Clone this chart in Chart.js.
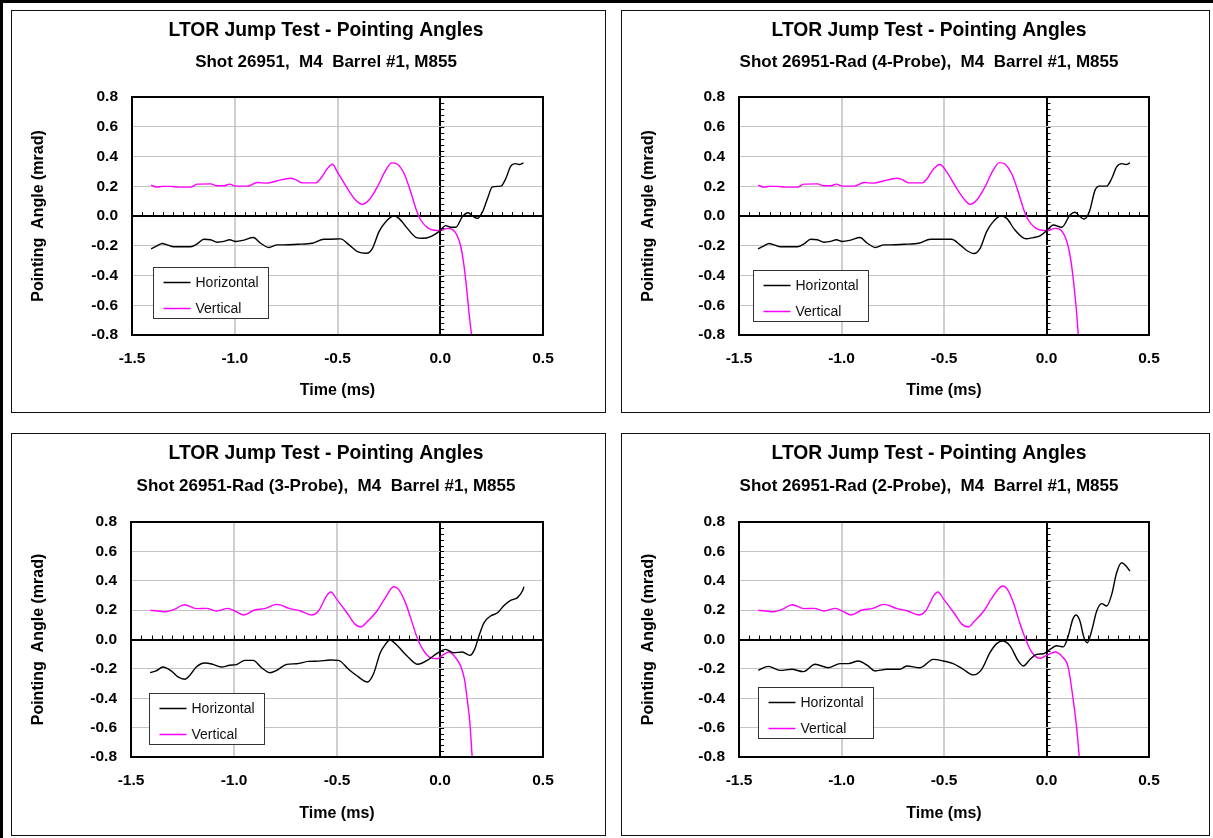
<!DOCTYPE html>
<html>
<head>
<meta charset="utf-8">
<script src="https://cdn.jsdelivr.net/npm/chart.js@4.4.0/dist/chart.umd.min.js"></script>
<style>
  html, body { margin: 0; padding: 0; background: #fff; }
  body { width: 1213px; height: 838px; position: relative; overflow: hidden; }
  .frameTop { position: absolute; left: 0; top: 0; width: 1213px; height: 3px; background: #000; }
  .frameLeft { position: absolute; left: 0; top: 0; width: 3px; height: 838px; background: #000; }
  .panel { position: absolute; border: 1px solid #111; background: #fff; }
  .panel canvas { position: absolute; left: 0; top: 0; }
</style>
</head>
<body>
<div class="frameTop"></div>
<div class="frameLeft"></div>
<div class="panel" id="b1" style="left:11px;top:10px;width:593px;height:401px"><canvas id="c1" width="593" height="401"></canvas></div>
<div class="panel" id="b2" style="left:621px;top:10px;width:587px;height:401px"><canvas id="c2" width="587" height="401"></canvas></div>
<div class="panel" id="b3" style="left:11px;top:433px;width:593px;height:401px"><canvas id="c3" width="593" height="401"></canvas></div>
<div class="panel" id="b4" style="left:621px;top:433px;width:587px;height:401px"><canvas id="c4" width="587" height="401"></canvas></div>
<script>
// ---------------- DATA ----------------
const chartTitle = 'LTOR Jump Test - Pointing Angles';
const subtitles = [
  'Shot 26951,  M4  Barrel #1, M855',
  'Shot 26951-Rad (4-Probe),  M4  Barrel #1, M855',
  'Shot 26951-Rad (3-Probe),  M4  Barrel #1, M855',
  'Shot 26951-Rad (2-Probe),  M4  Barrel #1, M855'
];
const seriesNames = ['Horizontal', 'Vertical'];
const xTickValues = [-1.5, -1.0, -0.5, 0.0, 0.5];
const yTickValues = [-0.8, -0.6, -0.4, -0.2, 0.0, 0.2, 0.4, 0.6, 0.8];
const xAxisTitle = 'Time (ms)';
const yAxisTitle = 'Pointing  Angle (mrad)';

// Panel 1 : Shot 26951
const p1HorizT = [-1.407,-1.378,-1.353,-1.329,-1.297,-1.215,-1.183,-1.150,-1.118,-1.085,-1.053,-1.025,-0.996,-0.955,-0.910,-0.874,-0.834,-0.793,-0.761,-0.696,-0.623,-0.566,-0.533,-0.485,-0.444,-0.403,-0.358,-0.330,-0.298,-0.265,-0.225,-0.201,-0.160,-0.119,-0.087,-0.046,-0.006,0.027,0.051,0.076,0.108,0.136,0.157,0.181,0.206,0.230,0.254,0.295,0.319,0.343,0.368,0.384,0.405];
const p1HorizV = [-0.221,-0.201,-0.185,-0.194,-0.207,-0.207,-0.188,-0.156,-0.160,-0.176,-0.171,-0.160,-0.171,-0.162,-0.145,-0.183,-0.212,-0.194,-0.194,-0.190,-0.183,-0.156,-0.156,-0.154,-0.194,-0.239,-0.250,-0.217,-0.105,-0.038,0.000,-0.016,-0.083,-0.143,-0.150,-0.138,-0.105,-0.065,-0.076,-0.076,-0.004,0.022,0.000,-0.016,0.029,0.118,0.196,0.201,0.252,0.335,0.352,0.346,0.357];
const p1VertT = [-1.407,-1.378,-1.353,-1.313,-1.272,-1.215,-1.183,-1.118,-1.085,-1.053,-1.025,-0.996,-0.939,-0.890,-0.842,-0.793,-0.728,-0.704,-0.671,-0.606,-0.582,-0.549,-0.525,-0.501,-0.452,-0.412,-0.379,-0.347,-0.306,-0.265,-0.236,-0.209,-0.176,-0.144,-0.119,-0.095,-0.062,-0.030,0.002,0.035,0.059,0.084,0.100,0.116,0.129,0.140,0.152,0.156];
const p1VertV = [0.207,0.194,0.199,0.199,0.194,0.194,0.214,0.216,0.203,0.203,0.214,0.201,0.201,0.225,0.221,0.237,0.254,0.245,0.223,0.223,0.252,0.319,0.348,0.297,0.185,0.107,0.078,0.107,0.196,0.308,0.357,0.348,0.286,0.163,0.051,-0.027,-0.078,-0.096,-0.098,-0.083,-0.090,-0.138,-0.205,-0.339,-0.495,-0.651,-0.797,-0.850];

// Panel 2 : Shot 26951-Rad (4-Probe)
const p2HorizT = [-1.407,-1.378,-1.353,-1.329,-1.297,-1.215,-1.183,-1.150,-1.118,-1.085,-1.053,-1.025,-0.996,-0.955,-0.910,-0.874,-0.834,-0.793,-0.761,-0.696,-0.623,-0.566,-0.520,-0.463,-0.422,-0.389,-0.354,-0.324,-0.292,-0.260,-0.222,-0.194,-0.154,-0.100,-0.064,-0.032,0.001,0.033,0.074,0.115,0.139,0.163,0.183,0.209,0.237,0.258,0.294,0.318,0.342,0.367,0.388,0.407];
const p2HorizV = [-0.221,-0.201,-0.185,-0.194,-0.207,-0.207,-0.188,-0.156,-0.160,-0.176,-0.171,-0.160,-0.171,-0.162,-0.145,-0.183,-0.212,-0.194,-0.194,-0.190,-0.183,-0.156,-0.156,-0.156,-0.194,-0.232,-0.252,-0.217,-0.105,-0.038,0.000,-0.016,-0.094,-0.153,-0.145,-0.134,-0.098,-0.060,-0.076,0.007,0.025,-0.004,-0.020,0.029,0.174,0.201,0.201,0.252,0.330,0.352,0.346,0.357];
const p2VertT = [-1.407,-1.378,-1.353,-1.313,-1.272,-1.215,-1.183,-1.118,-1.085,-1.053,-1.025,-0.996,-0.939,-0.890,-0.842,-0.793,-0.728,-0.704,-0.671,-0.606,-0.582,-0.549,-0.520,-0.487,-0.438,-0.398,-0.373,-0.340,-0.300,-0.260,-0.230,-0.202,-0.170,-0.138,-0.113,-0.089,-0.056,-0.023,0.009,0.041,0.066,0.090,0.106,0.123,0.136,0.147,0.155,0.159];
const p2VertV = [0.207,0.194,0.199,0.199,0.194,0.194,0.214,0.216,0.203,0.203,0.214,0.201,0.201,0.225,0.221,0.237,0.254,0.245,0.223,0.223,0.252,0.319,0.346,0.297,0.185,0.107,0.078,0.107,0.196,0.308,0.359,0.348,0.286,0.163,0.051,-0.027,-0.078,-0.096,-0.098,-0.083,-0.090,-0.138,-0.205,-0.339,-0.495,-0.651,-0.797,-0.850];

// Panel 3 : Shot 26951-Rad (3-Probe)
const p3HorizT = [-1.407,-1.378,-1.345,-1.305,-1.272,-1.240,-1.215,-1.183,-1.142,-1.102,-1.061,-1.020,-0.988,-0.947,-0.907,-0.866,-0.826,-0.793,-0.744,-0.696,-0.639,-0.590,-0.533,-0.493,-0.444,-0.396,-0.352,-0.322,-0.290,-0.265,-0.244,-0.209,-0.160,-0.108,-0.062,-0.014,0.027,0.067,0.108,0.145,0.168,0.189,0.214,0.246,0.279,0.311,0.343,0.376,0.400,0.408];
const p3HorizV = [-0.226,-0.214,-0.187,-0.214,-0.255,-0.271,-0.245,-0.187,-0.160,-0.169,-0.187,-0.175,-0.171,-0.142,-0.142,-0.192,-0.226,-0.210,-0.169,-0.165,-0.149,-0.147,-0.140,-0.142,-0.203,-0.255,-0.289,-0.231,-0.090,-0.033,-0.003,-0.039,-0.112,-0.169,-0.142,-0.094,-0.067,-0.090,-0.085,-0.108,-0.067,0.024,0.115,0.160,0.182,0.232,0.266,0.285,0.330,0.359];
const p3VertT = [-1.407,-1.378,-1.329,-1.289,-1.240,-1.183,-1.134,-1.085,-1.029,-0.996,-0.955,-0.899,-0.850,-0.793,-0.728,-0.680,-0.623,-0.590,-0.549,-0.530,-0.501,-0.452,-0.412,-0.384,-0.355,-0.306,-0.265,-0.225,-0.201,-0.168,-0.135,-0.111,-0.079,-0.046,-0.014,0.019,0.043,0.076,0.100,0.119,0.132,0.145,0.157,0.160];
const p3VertV = [0.198,0.196,0.189,0.205,0.237,0.210,0.212,0.194,0.212,0.194,0.167,0.201,0.210,0.239,0.210,0.196,0.167,0.194,0.300,0.323,0.273,0.182,0.103,0.085,0.119,0.194,0.285,0.359,0.341,0.251,0.115,0.012,-0.078,-0.124,-0.131,-0.101,-0.085,-0.124,-0.180,-0.271,-0.407,-0.566,-0.815,-0.860];

// Panel 4 : Shot 26951-Rad (2-Probe)
const p4HorizT = [-1.406,-1.357,-1.300,-1.243,-1.186,-1.129,-1.064,-1.007,-0.967,-0.918,-0.877,-0.837,-0.780,-0.715,-0.682,-0.617,-0.552,-0.503,-0.455,-0.406,-0.357,-0.316,-0.276,-0.243,-0.214,-0.178,-0.138,-0.113,-0.080,-0.048,-0.016,0.017,0.050,0.082,0.106,0.128,0.144,0.163,0.183,0.199,0.220,0.245,0.269,0.294,0.318,0.342,0.367,0.388,0.407];
const p4HorizV = [-0.210,-0.183,-0.210,-0.203,-0.219,-0.169,-0.192,-0.164,-0.164,-0.146,-0.173,-0.214,-0.203,-0.203,-0.180,-0.192,-0.135,-0.146,-0.164,-0.203,-0.241,-0.203,-0.090,-0.028,-0.010,-0.043,-0.146,-0.180,-0.135,-0.101,-0.097,-0.067,-0.043,-0.050,0.024,0.137,0.167,0.126,0.012,-0.022,0.058,0.194,0.244,0.228,0.307,0.455,0.523,0.500,0.466];
const p4VertT = [-1.407,-1.378,-1.329,-1.289,-1.240,-1.183,-1.134,-1.085,-1.029,-0.996,-0.955,-0.899,-0.850,-0.793,-0.728,-0.680,-0.623,-0.590,-0.549,-0.530,-0.501,-0.452,-0.412,-0.381,-0.355,-0.306,-0.265,-0.214,-0.190,-0.160,-0.130,-0.100,-0.070,-0.031,0.005,0.042,0.075,0.106,0.131,0.147,0.161,0.164];
const p4VertV = [0.198,0.196,0.189,0.205,0.237,0.210,0.212,0.194,0.212,0.194,0.167,0.201,0.210,0.239,0.210,0.196,0.167,0.194,0.300,0.323,0.273,0.182,0.103,0.085,0.119,0.194,0.285,0.364,0.340,0.245,0.110,-0.005,-0.090,-0.128,-0.105,-0.085,-0.115,-0.190,-0.418,-0.600,-0.815,-0.860];

// ---------------- LAYOUT (not data) ----------------
const panels = [
  { canvas: 'c1', sub: 0, ht: p1HorizT, hv: p1HorizV, vt: p1VertT, vv: p1VertV,
    area: { left: 120, top: 86, right: 531, bottom: 324 }, titleX: 314, titleY: 20, subY: 51, legend: { x: 21, y: 170 } },
  { canvas: 'c2', sub: 1, ht: p2HorizT, hv: p2HorizV, vt: p2VertT, vv: p2VertV,
    area: { left: 117, top: 86, right: 527, bottom: 324 }, titleX: 307, titleY: 20, subY: 51, legend: { x: 14, y: 173 } },
  { canvas: 'c3', sub: 2, ht: p3HorizT, hv: p3HorizV, vt: p3VertT, vv: p3VertV,
    area: { left: 119, top: 88, right: 531, bottom: 323 }, titleX: 314, titleY: 20, subY: 52, legend: { x: 18, y: 171 } },
  { canvas: 'c4', sub: 3, ht: p4HorizT, hv: p4HorizV, vt: p4VertT, vv: p4VertV,
    area: { left: 117, top: 88, right: 527, bottom: 323 }, titleX: 307, titleY: 20, subY: 52, legend: { x: 19, y: 165 } }
];

const FONT = '"Liberation Sans", Arial, Helvetica, sans-serif';
Chart.defaults.font.family = FONT;
Chart.defaults.color = '#000';

const isZero = v => Math.abs(v) < 1e-9;

const panelDecor = {
  id: 'panelDecor',
  beforeDatasetsDraw(chart) {
    const { ctx, scales: { x, y } } = chart;
    const x0 = x.getPixelForValue(0), y0 = y.getPixelForValue(0);
    ctx.save();
    ctx.strokeStyle = '#000';
    ctx.lineWidth = 1;
    ctx.beginPath();
    // minor ticks on the horizontal zero axis (every 0.05 ms)
    for (let i = -30; i <= 10; i++) {
      const px = Math.round(x.getPixelForValue(i * 0.05)) + 0.5;
      ctx.moveTo(px, y0 - 4); ctx.lineTo(px, y0);
    }
    // minor ticks on the vertical zero axis (every 0.04 mrad)
    for (let j = -20; j <= 20; j++) {
      const py = Math.round(y.getPixelForValue(j * 0.04)) + 0.5;
      ctx.moveTo(x0, py); ctx.lineTo(x0 + 4, py);
    }
    ctx.stroke();
    ctx.restore();
  },
  afterDatasetsDraw(chart, args, opts) {
    const { ctx, chartArea: a } = chart;
    ctx.save();
    // plot frame
    ctx.strokeStyle = '#000';
    ctx.lineWidth = 2;
    ctx.strokeRect(a.left, a.top, a.right - a.left, a.bottom - a.top);
    // legend box
    const lx = Math.round(a.left + opts.legendX) + 0.5, ly = Math.round(a.top + opts.legendY) + 0.5;
    const lw = 115, lh = 51;
    ctx.fillStyle = '#fff';
    ctx.fillRect(lx, ly, lw, lh);
    ctx.lineWidth = 1;
    ctx.strokeStyle = '#333';
    ctx.strokeRect(lx, ly, lw, lh);
    chart.data.datasets.forEach((ds, i) => {
      const yy = ly + 15 + 26 * i;
      ctx.strokeStyle = ds.borderColor;
      ctx.lineWidth = 1.5;
      ctx.beginPath();
      ctx.moveTo(lx + 10, yy); ctx.lineTo(lx + 37, yy);
      ctx.stroke();
      ctx.fillStyle = '#111';
      ctx.font = '14px ' + FONT;
      ctx.textAlign = 'left';
      ctx.textBaseline = 'middle';
      ctx.fillText(ds.label, lx + 42, yy + 1);
    });
    // titles
    ctx.fillStyle = '#000';
    ctx.textAlign = 'center';
    ctx.textBaseline = 'middle';
    ctx.font = 'bold 19.3px ' + FONT;
    ctx.fillText(opts.title, opts.titleX, opts.titleY);
    ctx.font = 'bold 17px ' + FONT;
    ctx.fillText(opts.subtitle, opts.titleX, opts.subY);
    ctx.restore();
  }
};

panels.forEach(p => {
  const cv = document.getElementById(p.canvas);
  const W = cv.width, H = cv.height;
  const hPts = p.ht.map((t, i) => ({ x: t, y: p.hv[i] }));
  const vPts = p.vt.map((t, i) => ({ x: t, y: p.vv[i] }));
  new Chart(cv, {
    type: 'line',
    data: {
      datasets: [
        { label: seriesNames[0], data: hPts, borderColor: '#000000', borderWidth: 1.4, pointRadius: 0, cubicInterpolationMode: 'monotone', fill: false },
        { label: seriesNames[1], data: vPts, borderColor: '#ff00ff', borderWidth: 1.4, pointRadius: 0, cubicInterpolationMode: 'monotone', fill: false }
      ]
    },
    options: {
      responsive: false,
      animation: false,
      devicePixelRatio: 1,
      layout: { padding: { left: 0, top: p.area.top, right: W - p.area.right, bottom: 0 } },
      plugins: {
        legend: { display: false },
        tooltip: { enabled: false },
        panelDecor: {
          title: chartTitle, subtitle: subtitles[p.sub],
          titleX: p.titleX, titleY: p.titleY, subY: p.subY,
          legendX: p.legend.x, legendY: p.legend.y
        }
      },
      scales: {
        x: {
          type: 'linear',
          min: xTickValues[0], max: xTickValues[xTickValues.length - 1],
          afterBuildTicks: s => { s.ticks = xTickValues.map(v => ({ value: v })); },
          afterFit: s => { s.height = H - p.area.bottom; },
          border: { display: false },
          grid: {
            drawTicks: false,
            color: c => isZero(c.tick.value) ? '#000' : '#cfcfcf',
            lineWidth: 2
          },
          ticks: {
            padding: 14,
            font: { size: 15.5, weight: 'bold' },
            callback: v => Number(v).toFixed(1)
          },
          title: { display: true, text: xAxisTitle, font: { size: 16, weight: 'bold' }, padding: { top: 0, bottom: 12 } }
        },
        y: {
          type: 'linear',
          min: yTickValues[0], max: yTickValues[yTickValues.length - 1],
          afterBuildTicks: s => { s.ticks = yTickValues.map(v => ({ value: v })); },
          afterFit: s => { s.width = p.area.left; },
          border: { display: false },
          grid: {
            drawTicks: false,
            color: c => isZero(c.tick.value) ? '#000' : '#c4c4c4',
            lineWidth: c => isZero(c.tick.value) ? 2 : 1
          },
          ticks: {
            padding: 14,
            font: { size: 15.5, weight: 'bold' },
            callback: v => Number(v).toFixed(1)
          },
          title: { display: true, text: yAxisTitle, font: { size: 16, weight: 'bold' }, padding: { top: 17, bottom: 0 } }
        }
      }
    },
    plugins: [panelDecor]
  });
});
</script>
</body>
</html>
